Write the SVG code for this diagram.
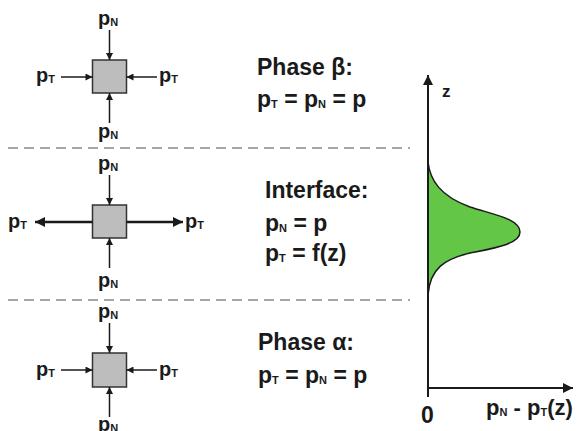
<svg xmlns="http://www.w3.org/2000/svg" width="578" height="431" viewBox="0 0 578 431">
<style>
  .t{font-family:"Liberation Sans",Arial,sans-serif;font-weight:bold;fill:#1a1a1a}
  .lbl{font-size:20px}
  .big{font-size:23px}
  .sub{font-size:11px}
  .box{fill:#bdbdbd;stroke:#333;stroke-width:1.5}
  .arr{stroke:#1a1a1a;stroke-width:1.5;fill:none}
  .arrT{stroke:#1a1a1a;stroke-width:2.5;fill:none}
  .dash{stroke:#8a8a8a;stroke-width:1.5;stroke-dasharray:10 6;fill:none}
  .axis{stroke:#1a1a1a;stroke-width:2;fill:none}
</style>
<defs>
  <marker id="ah" viewBox="0 0 10 10" refX="10" refY="5" markerWidth="9" markerHeight="7" markerUnits="userSpaceOnUse" orient="auto">
    <path d="M0,0 L10,5 L0,10 z" fill="#1a1a1a"/>
  </marker>
  <marker id="ahL" viewBox="0 0 10 10" refX="10" refY="5" markerWidth="12" markerHeight="10" markerUnits="userSpaceOnUse" orient="auto">
    <path d="M0,0 L10,5 L0,10 z" fill="#1a1a1a"/>
  </marker>
</defs>

<g id="separators">
  <line class="dash" x1="8" y1="148" x2="410" y2="148"/>
  <line class="dash" x1="8" y1="300" x2="410" y2="300"/>
</g>

<g id="cell-beta">
  <rect class="box" x="92.5" y="60" width="34" height="33"/>
  <text class="t lbl" x="98" y="25">p<tspan class="sub" dy="1">N</tspan></text>
  <text class="t lbl" x="36" y="82">p<tspan class="sub" dy="1">T</tspan></text>
  <text class="t lbl" x="159" y="82">p<tspan class="sub" dy="1">T</tspan></text>
  <text class="t lbl" x="98" y="138">p<tspan class="sub" dy="1">N</tspan></text>
</g>

<g id="cell-interface">
  <rect class="box" x="92.5" y="205" width="34" height="33"/>
  <text class="t lbl" x="98" y="170">p<tspan class="sub" dy="1">N</tspan></text>
  <text class="t lbl" x="8" y="228">p<tspan class="sub" dy="1">T</tspan></text>
  <text class="t lbl" x="185" y="228">p<tspan class="sub" dy="1">T</tspan></text>
  <text class="t lbl" x="98" y="287">p<tspan class="sub" dy="1">N</tspan></text>
</g>

<g id="cell-alpha">
  <rect class="box" x="92.5" y="353" width="34" height="34"/>
  <text class="t lbl" x="98" y="318">p<tspan class="sub" dy="1">N</tspan></text>
  <text class="t lbl" x="36" y="376">p<tspan class="sub" dy="1">T</tspan></text>
  <text class="t lbl" x="159" y="376">p<tspan class="sub" dy="1">T</tspan></text>
  <text class="t lbl" x="98" y="431">p<tspan class="sub" dy="1">N</tspan></text>
</g>

<g id="connectors">
  <line class="arr" x1="109.5" y1="30" x2="109.5" y2="60" marker-end="url(#ah)"/>
  <line class="arr" x1="109.5" y1="123" x2="109.5" y2="93" marker-end="url(#ah)"/>
  <line class="arr" x1="61" y1="77" x2="92.5" y2="77" marker-end="url(#ah)"/>
  <line class="arr" x1="157" y1="77" x2="126.5" y2="77" marker-end="url(#ah)"/>

  <line class="arr" x1="109.5" y1="175" x2="109.5" y2="205" marker-end="url(#ah)"/>
  <line class="arr" x1="109.5" y1="268" x2="109.5" y2="238" marker-end="url(#ah)"/>
  <line class="arrT" x1="92.5" y1="222" x2="35" y2="222" marker-end="url(#ahL)"/>
  <line class="arrT" x1="126.5" y1="222" x2="183" y2="222" marker-end="url(#ahL)"/>

  <line class="arr" x1="109.5" y1="323" x2="109.5" y2="353" marker-end="url(#ah)"/>
  <line class="arr" x1="109.5" y1="417" x2="109.5" y2="387" marker-end="url(#ah)"/>
  <line class="arr" x1="61" y1="370" x2="92.5" y2="370" marker-end="url(#ah)"/>
  <line class="arr" x1="157" y1="370" x2="126.5" y2="370" marker-end="url(#ah)"/>
</g>

<g id="text-beta">
  <text class="t big" x="257" y="75">Phase β:</text>
  <text class="t big" x="257" y="107">p<tspan class="sub" dy="1">T</tspan><tspan dy="-1"> = p</tspan><tspan class="sub" dy="1">N</tspan><tspan dy="-1"> = p</tspan></text>
</g>

<g id="text-interface">
  <text class="t big" x="265" y="198">Interface:</text>
  <text class="t big" x="265" y="231">p<tspan class="sub" dy="1">N</tspan><tspan dy="-1"> = p</tspan></text>
  <text class="t big" x="265" y="261">p<tspan class="sub" dy="1">T</tspan><tspan dy="-1"> = f(z)</tspan></text>
</g>

<g id="text-alpha">
  <text class="t big" x="258" y="350">Phase α:</text>
  <text class="t big" x="258" y="383">p<tspan class="sub" dy="1">T</tspan><tspan dy="-1"> = p</tspan><tspan class="sub" dy="1">N</tspan><tspan dy="-1"> = p</tspan></text>
</g>

<g id="plot">
  <path d="M428,162 C430,180 440,196 470,207 C495,215 520,219 520,232 C520,244 495,248 470,253 C445,259 430,268 428,295 Z" fill="#64c646" stroke="#1a1a1a" stroke-width="1.5"/>
  <line class="axis" x1="428" y1="397" x2="428" y2="75" marker-end="url(#ahL)"/>
  <line class="axis" x1="427" y1="388" x2="573" y2="388" marker-end="url(#ahL)"/>
  <text class="t" style="font-size:17px" x="442" y="97">z</text>
  <text class="t big" x="421" y="423">0</text>
  <text class="t" style="font-size:22px" x="486" y="415">p<tspan class="sub" dy="1">N</tspan><tspan dy="-1"> - p</tspan><tspan class="sub" dy="1">T</tspan><tspan dy="-1">(z)</tspan></text>
</g>
</svg>
